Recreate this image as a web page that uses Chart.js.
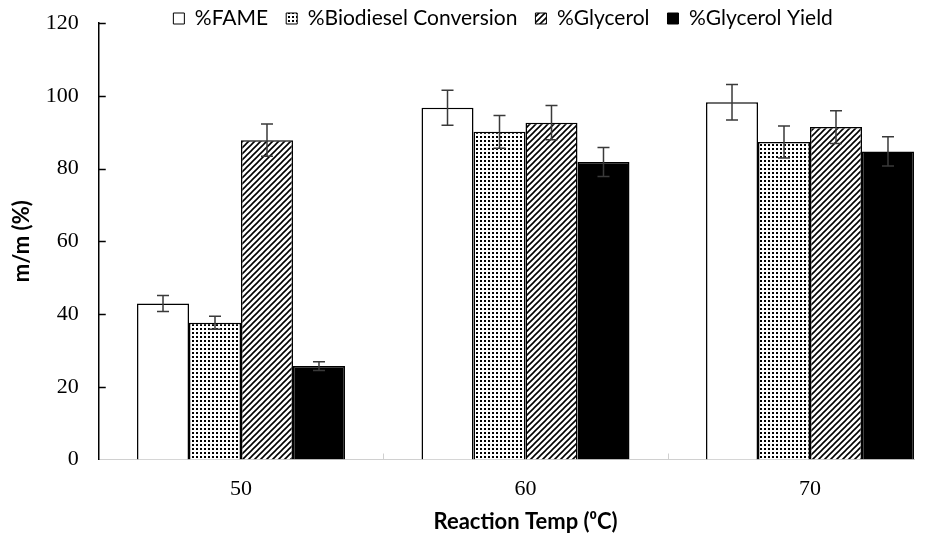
<!DOCTYPE html>
<html><head><meta charset="utf-8">
<script src="https://cdn.jsdelivr.net/npm/chart.js@4"></script>
<style>
html,body{margin:0;padding:0;background:#fff;overflow:hidden}
#wrap{width:915px;height:535px;overflow:hidden;position:relative;background:#fff}
canvas{display:block}
</style></head><body>
<div id="wrap"><canvas id="c" width="960" height="535" style="width:960px;height:535px"></canvas></div>
<script>
// ---- data ----
const categories = ['50', '60', '70'];
const seriesNames = ['%FAME', '%Biodiesel Conversion', '%Glycerol', '%Glycerol Yield'];
const fame = [42.9, 96.7, 98.2];
const fameErr = [2.2, 4.8, 4.9];
const biodiesel = [37.6, 90.1, 87.3];
const biodieselErr = [1.8, 4.5, 4.4];
const glycerol = [87.8, 92.6, 91.4];
const glycerolErr = [4.4, 4.7, 4.5];
const glycerolYield = [25.7, 81.8, 84.7];
const glycerolYieldErr = [1.2, 4.0, 4.0];
const yTicks = [0, 20, 40, 60, 80, 100, 120];
const xTitle = 'Reaction Temp (\u2070C)';
const yTitle = 'm/m (%)';

// ---- patterns ----
function dotPattern() {
  const c = document.createElement('canvas'); c.width = 4; c.height = 4;
  const g = c.getContext('2d');
  g.fillStyle = '#fff'; g.fillRect(0, 0, 4, 4);
  g.fillStyle = '#000'; g.fillRect(0, 0, 2, 2);
  return g.createPattern(c, 'repeat');
}
function hatchPattern() {
  const s = 6;
  const c = document.createElement('canvas'); c.width = s; c.height = s;
  const g = c.getContext('2d');
  g.fillStyle = '#fff'; g.fillRect(0, 0, s, s);
  g.strokeStyle = '#000'; g.lineWidth = 1.6;
  g.beginPath();
  g.moveTo(0, s); g.lineTo(s, 0);
  g.moveTo(-1, 1); g.lineTo(1, -1);
  g.moveTo(s - 1, s + 1); g.lineTo(s + 1, s - 1);
  g.stroke();
  return g.createPattern(c, 'repeat');
}

const values = [fame, biodiesel, glycerol, glycerolYield];
const errors = [fameErr, biodieselErr, glycerolErr, glycerolYieldErr];
const fills = ['#ffffff', dotPattern(), hatchPattern(), '#000000'];

const datasets = values.map((v, i) => ({
  label: seriesNames[i],
  data: v,
  backgroundColor: fills[i],
  borderColor: '#000',
  borderWidth: 1.5,
  barPercentage: 1.0,
  categoryPercentage: 0.731
}));

const LEGEND_DX = 27, LEGEND_TOP = -10;

const helper = {
  id: 'helper',
  afterLayout(chart) {
    const lg = chart.legend;
    if (lg) { lg.left += LEGEND_DX; lg.right += LEGEND_DX; lg.top = LEGEND_TOP; lg.bottom = LEGEND_TOP + 60; }
  },
  afterDatasetsDraw(chart) {
    const ctx = chart.ctx, ys = chart.scales.y, xs = chart.scales.x, ca = chart.chartArea;
    ctx.save();
    // error bars
    ctx.strokeStyle = '#3a3a3a'; ctx.lineWidth = 1.5;
    errors.forEach((errs, di) => {
      const meta = chart.getDatasetMeta(di);
      meta.data.forEach((bar, i) => {
        const v = values[di][i], e = errs[i];
        const x = bar.x, yt = ys.getPixelForValue(v + e), yb = ys.getPixelForValue(v - e);
        ctx.beginPath();
        ctx.moveTo(x, yt); ctx.lineTo(x, yb);
        ctx.moveTo(x - 6, yt); ctx.lineTo(x + 6, yt);
        ctx.moveTo(x - 6, yb); ctx.lineTo(x + 6, yb);
        ctx.stroke();
      });
    });
    // inward y tick marks
    ctx.strokeStyle = '#000'; ctx.lineWidth = 1.5;
    yTicks.forEach(t => {
      if (t === 0) return;
      const py = Math.round(ys.getPixelForValue(t)) + 0.5;
      ctx.beginPath(); ctx.moveTo(ca.left, py); ctx.lineTo(ca.left + 7, py); ctx.stroke();
    });
    // x tick marks between categories
    ctx.strokeStyle = '#d0d0d0'; ctx.lineWidth = 1;
    for (let i = 0; i < categories.length - 1; i++) {
      const px = Math.round((xs.getPixelForValue(i) + xs.getPixelForValue(i + 1)) / 2) + 0.5;
      ctx.beginPath(); ctx.moveTo(px, ca.bottom); ctx.lineTo(px, ca.bottom - 6); ctx.stroke();
    }
    ctx.restore();
  }
};

new Chart(document.getElementById('c'), {
  type: 'bar',
  data: { labels: categories, datasets },
  plugins: [helper],
  options: {
    responsive: false,
    animation: false,
    devicePixelRatio: 1,
    layout: { padding: { left: 0, right: 7.75, top: 0, bottom: 0 } },
    plugins: {
      tooltip: { enabled: false },
      legend: {
        position: 'top',
        maxHeight: 13,
        labels: {
          boxWidth: 11, boxHeight: 11, padding: 18,
          color: '#000',
          font: { family: 'Lato', size: 21 },
          generateLabels(chart) {
            return chart.data.datasets.map((d, i) => ({
              text: d.label, fillStyle: d.backgroundColor, strokeStyle: '#000',
              lineWidth: 1, hidden: false, datasetIndex: i, fontColor: '#000'
            }));
          }
        }
      }
    },
    scales: {
      x: {
        offset: true,
        grid: { display: false, drawTicks: false },
        border: { display: true, color: '#d0d0d0', width: 1 },
        ticks: { padding: 17, color: '#000', font: { family: 'Liberation Serif', size: 22 } },
        title: { display: true, text: xTitle, color: '#000', font: { family: 'Lato', size: 22, weight: 'bold' }, padding: { top: 0, bottom: 0 } },
        afterFit(s) { s.height = 75.5; }
      },
      y: {
        min: 0, max: 120,
        afterBuildTicks(s) { s.ticks = yTicks.map(v => ({ value: v })); },
        grid: { display: false, drawTicks: false },
        border: { display: true, color: '#000', width: 1.5 },
        ticks: { padding: 20, color: '#000', font: { family: 'Liberation Serif', size: 22 } },
        title: { display: true, text: yTitle, color: '#000', font: { family: 'Lato', size: 22, weight: 'bold' }, padding: { top: 9, bottom: 0 } },
        afterFit(s) { s.width = 98.75; s.paddingTop = 23; }
      }
    }
  }
});
</script>
</body></html>
